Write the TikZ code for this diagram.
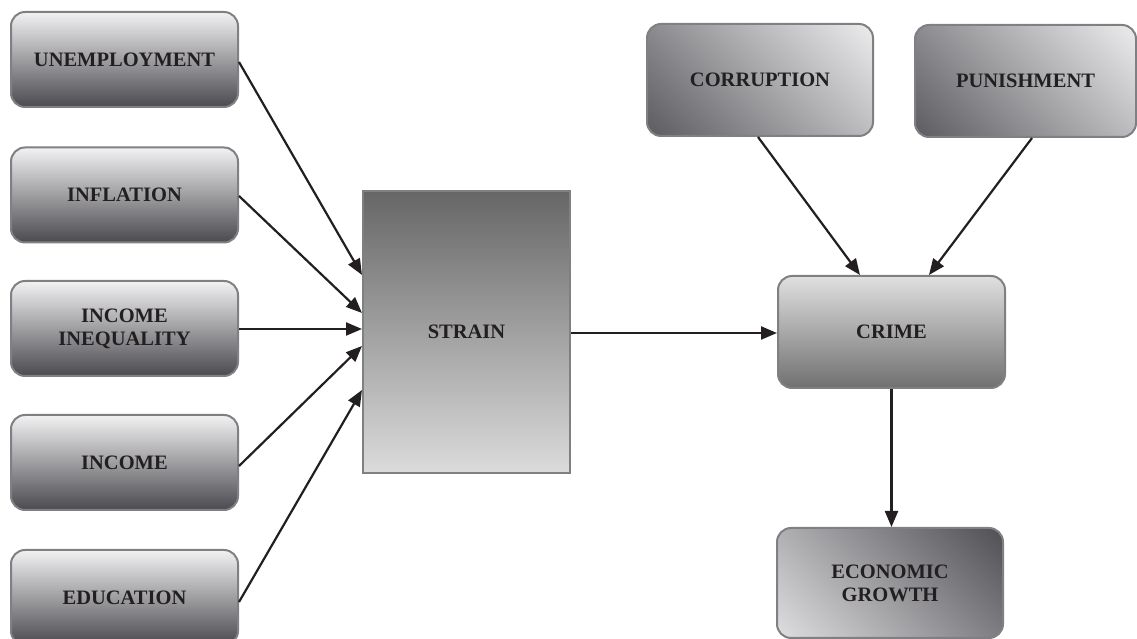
\documentclass[tikz,border=0pt]{standalone}
\usepackage{fontspec}
\setmainfont{Liberation Serif}
\usetikzlibrary{arrows.meta}
\definecolor{txt}{HTML}{231F20}
\definecolor{edge}{HTML}{7F8083}
\definecolor{dkA}{HTML}{56565B}
\definecolor{ltA}{HTML}{F2F2F3}
\definecolor{dkB}{HTML}{4A4A4F}
\definecolor{ltB}{HTML}{E4E4E6}
\pgfdeclareverticalshading{diagAsh}{100bp}{color(0bp)=(dkA); color(12bp)=(dkA); color(88bp)=(ltA); color(100bp)=(ltA)}
\pgfdeclareverticalshading{diagBsh}{100bp}{color(0bp)=(ltB); color(12bp)=(ltB); color(88bp)=(dkB); color(100bp)=(dkB)}
\tikzset{
  lbl/.style={font=\bfseries\fontsize{20.5}{23}\selectfont, text=txt, align=center},
  rbox/.style={lbl, draw=edge, line width=2pt, rounded corners=14pt,
    minimum width=227pt, minimum height=95pt, inner sep=0pt},
  leftbox/.style={rbox, top color=ltA, middle color=black!30!white, bottom color=dkB},
  crimebox/.style={rbox, minimum height=112pt, top color=black!12!white, middle color=black!35!white, bottom color=black!56!white},
  diagA/.style={rbox, minimum height=112pt, shading=diagAsh, shading angle=-45},
  diagB/.style={rbox, minimum height=110pt, shading=diagBsh, shading angle=-45},
  strainbox/.style={lbl, draw=edge, line width=2pt, minimum width=207pt, minimum height=282pt,
    top color=black!60!white, bottom color=black!14!white, inner sep=0pt},
  arr/.style={-{Triangle[length=16pt,width=13pt]}, line width=2.2pt, color=txt},
}
\begin{document}
\begin{tikzpicture}[x=1pt,y=1pt]
\useasboundingbox (0,0) rectangle (1137,639);
% y_tikz = 639 - y_px
\node[leftbox] (unemp)  at (124.5, 579.5) {UNEMPLOYMENT};
\node[leftbox] (infl)   at (124.5, 444)   {INFLATION};
\node[leftbox] (ineq)   at (124.5, 310.5) {INCOME\\INEQUALITY};
\node[leftbox] (income) at (124.5, 176.5) {INCOME};
\node[leftbox] (educ)   at (124.5, 41.5)  {EDUCATION};
\node[strainbox] (strain) at (466.5, 307) {STRAIN};
\node[crimebox] (crime) at (891.5, 307) {CRIME};
\node[diagB, minimum width=226pt] (econ) at (890, 56) {ECONOMIC\\GROWTH};
\node[diagA, minimum width=226pt] (corr) at (760, 559) {CORRUPTION};
\node[diagA, minimum width=221pt] (pun) at (1025.5, 558) {PUNISHMENT};
% arrows into STRAIN
\draw[arr] ([yshift=-2.5pt]unemp.east) -- ([yshift=57pt]strain.west);
\draw[arr] ([yshift=-1pt]infl.east) -- ([yshift=19pt]strain.west);
\draw[arr] ([yshift=-0.5pt]ineq.east) -- ([yshift=3pt]strain.west);
\draw[arr] ([yshift=-3.5pt]income.east) -- ([yshift=-14pt]strain.west);
\draw[arr] ([yshift=-4.5pt]educ.east) -- ([yshift=-58pt]strain.west);
% strain to crime
\draw[arr] ([yshift=-1pt]strain.east) -- ([yshift=-1pt]crime.west);
% corruption, punishment to crime
\draw[arr] ([xshift=-2pt]corr.south) -- ([xshift=-31.5pt]crime.north);
\draw[arr] ([xshift=6.5pt]pun.south) -- ([xshift=37.5pt]crime.north);
% crime to growth
\draw[arr] (crime.south) -- (crime.south |- econ.north);
\end{tikzpicture}
\end{document}
